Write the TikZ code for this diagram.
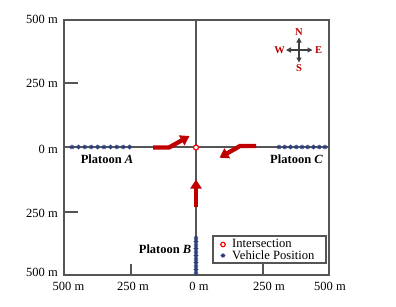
\documentclass[tikz,border=0pt]{standalone}
\usepackage{fontspec}
\setmainfont{Liberation Serif}
\usetikzlibrary{arrows.meta}
\definecolor{axgray}{HTML}{555555}
\definecolor{arrred}{HTML}{C00000}
\definecolor{navy}{HTML}{2B3F7F}
\definecolor{cmpgray}{HTML}{404040}
\tikzset{
  frame/.style={draw=axgray,line width=1.4pt},
  axline/.style={draw=axgray,line width=1.1pt},
  ticklbl/.style={inner sep=0pt,font=\fontsize{12.5}{14}\selectfont},
  platlbl/.style={inner sep=0pt,font=\fontsize{12.5}{14}\selectfont\bfseries},
  legtxt/.style={inner sep=0pt,anchor=west,font=\fontsize{12.6}{14}\selectfont},
  movearrow/.style={draw=arrred,line width=4.3pt,-{Triangle[length=9pt,width=11pt]}},
  cmparrow/.style={draw=cmpgray,line width=1.1pt,{Triangle[length=5pt,width=5pt]}-{Triangle[length=5pt,width=5pt]}},
  cmplbl/.style={inner sep=0pt,text=arrred,font=\fontsize{10.5}{12}\selectfont\bfseries},
  isect/.style={circle,draw=red,fill=white,line width=1.2pt,minimum size=5pt,inner sep=0pt},
  veh/.pic={\draw[navy,line width=0.8pt] (-2.3,0)--(2.3,0) (0,-2.3)--(0,2.3) (-1.5,-1.5)--(1.5,1.5) (-1.5,1.5)--(1.5,-1.5);}
}
\begin{document}
\begin{tikzpicture}[x=1pt,y=-1pt]
\useasboundingbox[fill=white] (0,0) rectangle (396,306);
% frame and axes
\draw[axline] (64,147) -- (329,147);
\draw[axline] (196,20) -- (196,275);
\draw[axline] (64,83) -- (78,83);
\draw[axline] (64,212) -- (78,212);
\draw[axline] (131,275) -- (131,264);
\draw[axline] (263,275) -- (263,264);
\draw[frame] (64,20) rectangle (329,275);
% tick labels
\node[ticklbl,anchor=east] (ly1) at (58,19.5) {500 m};
\node[ticklbl,anchor=east] (ly2) at (58,83) {250 m};
\node[ticklbl,anchor=east] (ly3) at (58,149) {0 m};
\node[ticklbl,anchor=east] (ly4) at (58,213.5) {250 m};
\node[ticklbl,anchor=east] (ly5) at (58,272.5) {500 m};
\node[ticklbl] (lx1) at (68.5,286) {500 m};
\node[ticklbl] (lx2) at (133,286) {250 m};
\node[ticklbl] (lx3) at (199,286) {0 m};
\node[ticklbl] (lx4) at (269,286) {250 m};
\node[ticklbl] (lx5) at (330,286) {500 m};
% vehicles
\foreach \i in {0,...,9} { \pic at ({72+6.4*\i},147) {veh}; }
\foreach \i in {0,...,8} { \pic at ({279+5.75*\i},147) {veh}; }
\foreach \i in {0,...,10} { \pic at (196,{238+3.5*\i}) {veh}; }
% platoon labels
\node[platlbl] (pa) at (107,159.5) {Platoon \textit{A}};
\node[platlbl] (pc) at (296.5,159) {Platoon \textit{C}};
\node[platlbl,anchor=east] (pb) at (191.5,249.5) {Platoon \textit{B}};
% movement arrows
\coordinate (a0) at (153,147.5);
\coordinate (a1) at (169,147.5);
\coordinate (a2) at (189.5,136);
\coordinate (c0) at (256,146);
\coordinate (c1) at (240,146);
\coordinate (c2) at (219.5,157.7);
\coordinate (b0) at (196,207);
\coordinate (b1) at (196,179.5);
\draw[movearrow] (a0) -- (a1) -- (a2);
\draw[movearrow] (c0) -- (c1) -- (c2);
\draw[movearrow] (b0) -- (b1);
% intersection
\node[isect] (O) at (196,147.5) {};
% compass
\coordinate (cw) at (286,50);
\coordinate (ce) at (312.5,50);
\coordinate (cn) at (299,37.5);
\coordinate (cs) at (299,62.5);
\draw[cmparrow] (cw) -- (ce);
\draw[cmparrow] (cn) -- (cs);
\node[cmplbl] (N) at (299,32) {N};
\node[cmplbl] (S) at (299,68.5) {S};
\node[cmplbl] (W) at (279.5,50) {W};
\node[cmplbl] (E) at (318.5,50) {E};
% legend
\node[draw=axgray,line width=1.1pt,fill=white,minimum width=113pt,minimum height=27pt,inner sep=0pt] (leg) at (269.5,249.5) {};
\node[isect,minimum size=4.5pt] (lm1) at (223,244.5) {};
\pic at (223,255.5) {veh};
\node[legtxt] (lt1) at (232,243.8) {Intersection};
\node[legtxt] (lt2) at (232,255.6) {Vehicle Position};
\end{tikzpicture}
\end{document}
